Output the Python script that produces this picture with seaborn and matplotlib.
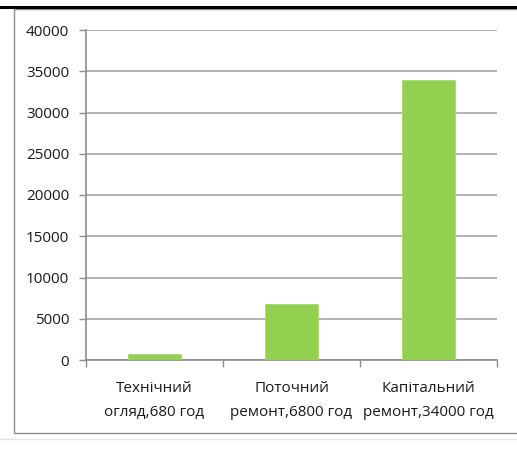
import numpy as np
import pandas as pd
import matplotlib
matplotlib.use('Agg')
import matplotlib.pyplot as plt
import seaborn as sns
from matplotlib.lines import Line2D
from matplotlib.patches import Rectangle

categories = ['Технічний\nогляд,680 год', 'Поточний\nремонт,6800 год', 'Капітальний\nремонт,34000 год']
values = [680, 6800, 34000]
y_ticks = [0, 5000, 10000, 15000, 20000, 25000, 30000, 35000, 40000]

sns.set_theme(style='white')
plt.rcParams['font.family'] = ['Open Sans', 'DejaVu Sans']

df = pd.DataFrame({'category': categories, 'value': values})

W, H = 517, 475
fig = plt.figure(figsize=(W / 100, H / 100), dpi=100)
fig.patch.set_facecolor('white')

# spreadsheet background bits + chart frame
fig.add_artist(Line2D([0, 1], [1 - 7 / H, 1 - 7 / H], color='black', lw=2.2))
fig.add_artist(Rectangle((14 / W, 1 - 433 / H), 1.2, (433 - 9) / H, fill=False,
                         edgecolor='#8c8c8c', lw=1.0))
fig.add_artist(Line2D([0, 1], [1 - 439 / H, 1 - 439 / H], color='#e3e3e3', lw=1))

ax = fig.add_axes([86 / W, 1 - 360 / H, (497 - 86) / W, 330 / H])
sns.barplot(data=df, x='category', y='value', color='#92d050', width=0.39,
            saturation=1, ax=ax, edgecolor='#a6dc6e', linewidth=0.6, zorder=3)

ax.set_ylim(0, 40000)
ax.set_xlim(-0.5, 2.5)
ax.set_yticks(y_ticks)
ax.set_yticklabels([str(v) for v in y_ticks], fontsize=11, color='#1a1a1a')
ax.grid(axis='y', color='#a6a6a6', lw=1.2, zorder=0)
ax.set_axisbelow(True)
ax.set_xlabel('')
ax.set_ylabel('')

ax.tick_params(axis='x', which='major', length=0, pad=15, labelsize=11, labelcolor='#1a1a1a')
for lbl in ax.get_xticklabels():
    lbl.set_linespacing(1.8)
ax.set_xticks([-0.5, 0.5, 1.5, 2.5], minor=True)
ax.tick_params(axis='x', which='minor', length=5, width=1, color='#8c8c8c', direction='out', bottom=True)
ax.tick_params(axis='y', length=5, width=1, color='#8c8c8c', direction='out', left=True, pad=7)

for side in ['top', 'right']:
    ax.spines[side].set_visible(False)
for side in ['left', 'bottom']:
    ax.spines[side].set_color('#8c8c8c')
    ax.spines[side].set_linewidth(1.2)

fig.savefig('out.png', dpi=100)
